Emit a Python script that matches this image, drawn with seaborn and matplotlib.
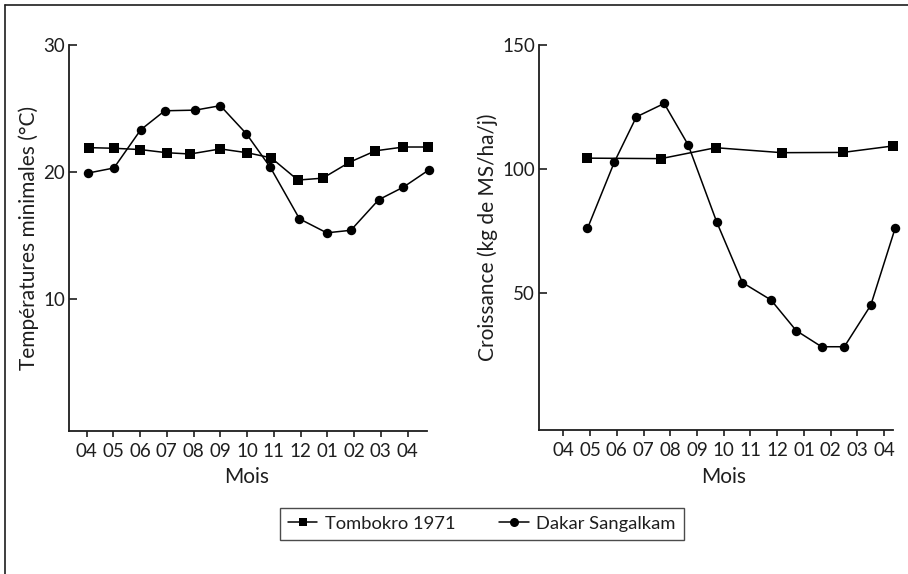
import matplotlib
matplotlib.use("Agg")
import matplotlib.pyplot as plt
import seaborn as sns
import pandas as pd
from matplotlib.lines import Line2D

# ---------------- data ----------------
mois_labels = ["04", "05", "06", "07", "08", "09", "10", "11", "12", "01", "02", "03", "04"]
series = ["Tombokro 1971", "Dakar Sangalkam"]

# Left panel: minimum temperatures (°C)
temp_tombo_x = [0.09, 1.03, 2.0, 3.0, 3.87, 5.0, 6.0, 6.9, 7.9, 8.83, 9.83, 10.8, 11.85, 12.76]
temp_tombo_y = [21.9, 21.85, 21.75, 21.5, 21.4, 21.8, 21.5, 21.1, 19.35, 19.5, 20.75, 21.65, 21.95, 21.95]
temp_dakar_x = [0.05, 1.02, 2.02, 2.92, 4.06, 5.0, 5.97, 6.87, 7.96, 8.98, 9.88, 10.92, 11.85, 12.8]
temp_dakar_y = [19.9, 20.3, 23.3, 24.8, 24.85, 25.2, 23.0, 20.35, 16.3, 15.2, 15.4, 17.8, 18.8, 20.15]

# Right panel: growth (kg MS/ha/j)
croi_tombo_x = [0.88, 3.65, 5.70, 8.17, 10.46, 12.33]
croi_tombo_y = [104.4, 104.2, 108.6, 106.6, 106.7, 109.3]
croi_dakar_x = [0.90, 1.91, 2.73, 3.77, 4.67, 5.74, 6.70, 7.77, 8.71, 9.66, 10.51, 11.50, 12.41]
croi_dakar_y = [76.1, 102.9, 121.0, 126.4, 109.7, 78.6, 54.3, 47.3, 35.0, 28.5, 28.5, 45.2, 76.1]

df_temp = pd.concat([
    pd.DataFrame({"pos": temp_tombo_x, "val": temp_tombo_y, "site": series[0]}),
    pd.DataFrame({"pos": temp_dakar_x, "val": temp_dakar_y, "site": series[1]}),
], ignore_index=True)
df_croi = pd.concat([
    pd.DataFrame({"pos": croi_tombo_x, "val": croi_tombo_y, "site": series[0]}),
    pd.DataFrame({"pos": croi_dakar_x, "val": croi_dakar_y, "site": series[1]}),
], ignore_index=True)

# ---------------- style ----------------
sns.set_theme(style="white")
plt.rcParams["font.family"] = ["Lato", "DejaVu Sans"]
plt.rcParams["font.size"] = 13

TXT = "#1e1e1e"
fig = plt.figure(figsize=(9.08, 5.74), dpi=100)
ax1 = fig.add_axes([0.076, 0.2497, 0.394, 0.6725])
ax2 = fig.add_axes([0.594, 0.2509, 0.390, 0.671])

markers = {series[0]: "s", series[1]: "o"}
palette = {series[0]: "black", series[1]: "black"}

for ax, df, ylim, yticks, ylabel, xlim in [
    (ax1, df_temp, (-0.36, 30), [10, 20, 30], "Températures minimales (°C)", (-0.66, 12.72)),
    (ax2, df_croi, (-5, 150), [50, 100, 150], "Croissance (kg de MS/ha/j)", (-0.9, 12.35)),
]:
    sns.lineplot(data=df, x="pos", y="val", hue="site", style="site",
                 markers=markers, dashes=False, palette=palette, sort=False,
                 estimator=None, legend=False, ax=ax, linewidth=1.1,
                 markersize=6.8, markeredgewidth=0, clip_on=False)
    ax.set_xlim(*xlim)
    ax.set_ylim(*ylim)
    ax.set_yticks(yticks)
    ax.set_yticklabels([str(t) for t in yticks], fontsize=13.5, color=TXT)
    ax.set_xticks(range(len(mois_labels)))
    ax.set_xticklabels(mois_labels, fontsize=13.5, color=TXT)
    ax.set_ylabel(ylabel, fontsize=15, color=TXT, labelpad=3)
    ax.set_xlabel("Mois", fontsize=15, color=TXT)
    for s in ["top", "right"]:
        ax.spines[s].set_visible(False)
    for s in ["left", "bottom"]:
        ax.spines[s].set_color(TXT)
        ax.spines[s].set_linewidth(1.3)
    ax.tick_params(axis="y", direction="in", length=6, width=1.2, pad=3, left=True, colors=TXT)
    ax.tick_params(axis="x", direction="out", length=4, width=1.2, pad=5, bottom=True, colors=TXT)
    ax.grid(False)

# Center "Mois" on the tick range
ax1.xaxis.set_label_coords((6 - (-0.66)) / (12.72 + 0.66), -0.095)
ax2.xaxis.set_label_coords((6 - (-0.9)) / (12.35 + 0.9), -0.095)

# Legend
handles = [
    Line2D([0], [0], color="black", marker="s", markersize=6, linewidth=1.1, markeredgewidth=0),
    Line2D([0], [0], color="black", marker="o", markersize=6.5, linewidth=1.1, markeredgewidth=0),
]
leg = fig.legend(handles, series, loc="center", bbox_to_anchor=(481.7 / 908, 1 - 523.8 / 574),
                 ncol=2, frameon=True, fancybox=False, fontsize=13.2, handlelength=1.6,
                 handletextpad=0.4, columnspacing=2.4, borderpad=0.45, borderaxespad=0)
leg.get_frame().set_edgecolor(TXT)
leg.get_frame().set_linewidth(1.0)
for t in leg.get_texts():
    t.set_color(TXT)

# Outer frame (top and left)
fig.add_artist(Line2D([4.5 / 908, 1.0], [1 - 4.5 / 574, 1 - 4.5 / 574], transform=fig.transFigure,
                      color=TXT, linewidth=1.2))
fig.add_artist(Line2D([4.5 / 908, 4.5 / 908], [0.0, 1 - 4.5 / 574], transform=fig.transFigure,
                      color=TXT, linewidth=1.2))

fig.savefig("out.png", dpi=100, facecolor="white")
